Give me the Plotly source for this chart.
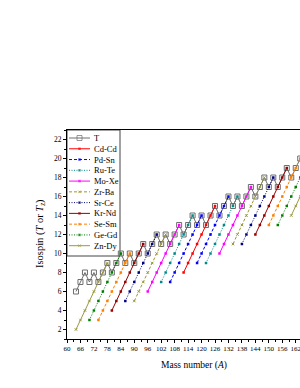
import plotly.graph_objects as go

# ---------------- data ----------------
T_A = [64, 66, 68, 70, 72, 74, 76, 78, 80, 82, 84, 86, 88, 90, 92, 94, 96, 98, 100,
       102, 104, 106, 108, 110, 112, 114, 116, 118, 120, 122, 124, 126, 128, 130,
       132, 134, 136, 138, 140, 142, 144, 146, 148, 150, 152, 154, 156, 158, 160,
       162, 164]
T_vals = [6, 7, 8, 7, 8, 7, 8, 9, 8, 9, 10, 9, 10, 9, 10, 11, 10, 11, 12,
          11, 12, 11, 12, 13, 12, 13, 14, 13, 14, 13, 14, 15, 14, 15,
          16, 15, 16, 15, 16, 17, 16, 17, 18, 17, 18, 17, 18, 19, 18,
          19, 20]

Cd_A = [112, 114, 116, 118, 120, 122, 124, 126]
Cd_T = [8, 9, 10, 11, 12, 13, 14, 15]

Pd_A = [106, 108, 110, 112, 114, 116, 118, 120]
Pd_T = [7, 8, 9, 10, 11, 12, 13, 14]
Sn_A = [118, 120, 122, 124, 126, 128, 130, 132]
Sn_T = [9, 10, 11, 12, 13, 14, 15, 16]

Ru_A = [102, 104, 106, 108, 110, 112, 114, 116]
Ru_T = [7, 8, 9, 10, 11, 12, 13, 14]
Te_A = [122, 124, 126, 128, 130, 132, 134, 136]
Te_T = [9, 10, 11, 12, 13, 14, 15, 16]

Mo_A = [96, 98, 100, 102, 104, 106, 108, 110]
Mo_T = [6, 7, 8, 9, 10, 11, 12, 13]
Xe_A = [128, 130, 132, 134, 136, 138, 140, 142]
Xe_T = [10, 11, 12, 13, 14, 15, 16, 17]

Zr_A = [90, 92, 94, 96, 98, 100, 102, 104]
Zr_T = [5, 6, 7, 8, 9, 10, 11, 12]
Ba_A = [134, 136, 138, 140, 142, 144, 146, 148]
Ba_T = [11, 12, 13, 14, 15, 16, 17, 18]

Sr_A = [86, 88, 90, 92, 94, 96, 98, 100]
Sr_T = [5, 6, 7, 8, 9, 10, 11, 12]
Ce_A = [138, 140, 142, 144, 146, 148, 150, 152]
Ce_T = [11, 12, 13, 14, 15, 16, 17, 18]

Kr_A = [80, 82, 84, 86, 88, 90, 92, 94]
Kr_T = [4, 5, 6, 7, 8, 9, 10, 11]
Nd_A = [144, 146, 148, 150, 152, 154, 156, 158]
Nd_T = [12, 13, 14, 15, 16, 17, 18, 19]

Se_A = [74, 76, 78, 80, 82, 84, 86, 88]
Se_T = [3, 4, 5, 6, 7, 8, 9, 10]
Sm_A = [150, 152, 154, 156, 158, 160, 162, 164]
Sm_T = [13, 14, 15, 16, 17, 18, 19, 20]

Ge_A = [70, 72, 74, 76, 78, 80, 82, 84]
Ge_T = [3, 4, 5, 6, 7, 8, 9, 10]
Gd_A = [154, 156, 158, 160, 162, 164]
Gd_T = [13, 14, 15, 16, 17, 18]

Zn_A = [64, 66, 68, 70, 72, 74, 76, 78]
Zn_T = [2, 3, 4, 5, 6, 7, 8, 9]
Dy_A = [160, 162, 164]
Dy_T = [14, 15, 16]

x_ticks = [60, 66, 72, 78, 84, 90, 96, 102, 108, 114, 120, 126, 132, 138, 144, 150, 156, 162]
y_ticks = [2, 4, 6, 8, 10, 12, 14, 16, 18, 20, 22]

# ---------------- styles ----------------
FONT = "Liberation Serif"
series = [
    # name, segments, color, dash, symbol
    ("Cd-Cd", [(Cd_A, Cd_T)], "#ff0000", "solid", "square"),
    ("Pd-Sn", [(Pd_A, Pd_T), (Sn_A, Sn_T)], "#0000ff", "3px,2px", "square"),
    ("Ru-Te", [(Ru_A, Ru_T), (Te_A, Te_T)], "#008b8b", "1px,1.5px", "square"),
    ("Mo-Xe", [(Mo_A, Mo_T), (Xe_A, Xe_T)], "#ff00ff", "solid", "square"),
    ("Zr-Ba", [(Zr_A, Zr_T), (Ba_A, Ba_T)], "#999933", "3px,2px", "x-thin"),
    ("Sr-Ce", [(Sr_A, Sr_T), (Ce_A, Ce_T)], "#000080", "1px,1.5px", "square"),
    ("Kr-Nd", [(Kr_A, Kr_T), (Nd_A, Nd_T)], "#990000", "solid", "square"),
    ("Se-Sm", [(Se_A, Se_T), (Sm_A, Sm_T)], "#ff8000", "3px,2px", "square"),
    ("Ge-Gd", [(Ge_A, Ge_T), (Gd_A, Gd_T)], "#008000", "1px,1.5px", "square"),
    ("Zn-Dy", [(Zn_A, Zn_T), (Dy_A, Dy_T)], "#999940", "solid", "x-thin"),
]
T_COLOR = "#6e6e6e"

fig = go.Figure()

# T envelope
fig.add_trace(go.Scatter(
    x=T_A, y=T_vals, mode="lines+markers", name="T",
    line=dict(color=T_COLOR, width=1),
    marker=dict(symbol="square-open", size=5, color=T_COLOR, line=dict(width=1, color=T_COLOR)),
    showlegend=False,
))

for name, segs, col, dash, sym in series:
    xs, ys = [], []
    for i, (a, t) in enumerate(segs):
        if i > 0:
            xs.append(None)
            ys.append(None)
        xs += list(a)
        ys += list(t)
    lw = 1 if sym.startswith("x") else 0
    fig.add_trace(go.Scatter(
        x=xs, y=ys, mode="lines+markers", name=name,
        line=dict(color=col, width=1, dash=dash),
        marker=dict(symbol=sym, size=2.5, color=col, line=dict(width=lw, color=col)),
        showlegend=False,
    ))

# ---------------- geometry (screen pixels; body margin removed below) ----------------
SL, SR, STOP, SBOT = 67, 300, 130, 339          # plot area on screen
FIG_W, FIG_H = 300, 388
W, H = SR - SL, SBOT - STOP


def px(xs):  # screen x -> paper
    return (xs - SL) / W


def py(ys):  # screen y -> paper
    return (SBOT - ys) / H


leg_names = ["T"] + [s[0] for s in series]
leg_styles = [(T_COLOR, "solid", "square-open", 5, 1)] + \
             [(s[2], s[3], s[4], 2.5, 1 if s[4].startswith("x") else 0) for s in series]
y0, dy = 138.0, 10.77
for i, (nm, (col, dash, sym, msz, mlw)) in enumerate(zip(leg_names, leg_styles)):
    yy = y0 + i * dy
    fig.add_trace(go.Scatter(
        x=[px(69), px(79.5), px(90)], y=[py(yy)] * 3, xaxis="x2", yaxis="y2",
        mode="lines+markers", showlegend=False, hoverinfo="skip",
        line=dict(color=col, width=1, dash=dash),
        marker=dict(symbol=sym, size=[0, msz, 0], color=col, line=dict(width=mlw, color=col)),
    ))
    fig.add_annotation(x=px(91.5), y=py(yy), xref="paper", yref="paper", text=nm,
                       showarrow=False, xanchor="left", yanchor="middle",
                       font=dict(family=FONT, size=8.5, color="black"))

fig.add_shape(type="rect", xref="paper", yref="paper", x0=px(67), x1=px(120),
              y0=py(130), y1=py(256),
              line=dict(color="#444444", width=1), fillcolor="white", layer="below")

# axis titles
fig.add_annotation(x=px(194), y=py(365), xref="paper", yref="paper",
                   text="Mass number (<i>A</i>)",
                   showarrow=False, xanchor="center", yanchor="middle",
                   font=dict(family=FONT, size=9.5, color="black"))
fig.add_annotation(x=px(40), y=py(234), xref="paper", yref="paper",
                   text="Isospin (<i>T</i> or <i>T</i><sub><i>z</i></sub>)",
                   showarrow=False, textangle=-90, xanchor="center", yanchor="middle",
                   font=dict(family=FONT, size=10.5, color="black"))

fig.update_layout(
    width=FIG_W, height=FIG_H,
    margin=dict(l=SL, r=FIG_W - SR, t=STOP, b=FIG_H - SBOT, autoexpand=False),
    paper_bgcolor="white", plot_bgcolor="white",
    showlegend=False,
    xaxis=dict(
        range=[60, 163.9], tickmode="array", tickvals=x_ticks,
        ticktext=[str(v) for v in x_ticks], tickangle=0,
        ticks="outside", ticklen=3, tickwidth=1, tickcolor="black",
        minor=dict(dtick=3, tick0=60, ticks="outside", ticklen=2, tickcolor="black"),
        showline=True, linecolor="black", linewidth=1, mirror=True,
        showgrid=False, zeroline=False, ticklabeloverflow="allow",
        tickfont=dict(family=FONT, size=7, color="black"),
    ),
    yaxis=dict(
        range=[1, 23], tickmode="array", tickvals=y_ticks,
        ticks="outside", ticklen=3, tickwidth=1, tickcolor="black",
        minor=dict(dtick=1, tick0=1, ticks="outside", ticklen=2, tickcolor="black"),
        showline=True, linecolor="black", linewidth=1,
        showgrid=False, zeroline=False,
        tickfont=dict(family=FONT, size=7.5, color="black"),
    ),
    xaxis2=dict(overlaying="x", anchor="y2", range=[0, 1], visible=False, fixedrange=True),
    yaxis2=dict(overlaying="y", anchor="x2", range=[0, 1], visible=False, fixedrange=True),
)

fig.write_html(
    "out.html",
    config={"displayModeBar": False},
    post_script="document.body.style.margin='0';document.body.style.overflow='hidden';",
)
